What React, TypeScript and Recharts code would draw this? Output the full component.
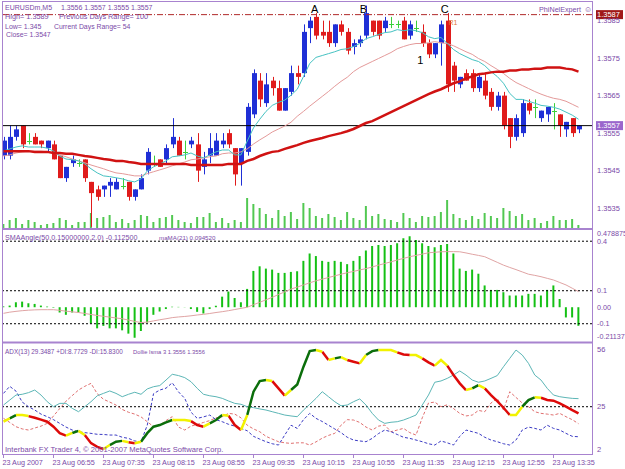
import { ComposedChart, Bar, Line, XAxis, YAxis, ReferenceLine, ReferenceDot } from 'recharts'

const W = 625
const H = 469
const FONT = '"Liberation Sans", Arial, sans-serif'
const PURPLE = '#7b4aa8'
const FRAME = '#a883cf'
const BULL = '#1f2fd6'
const BEAR = '#e01b1b'
const DOJI = '#3cd03c'

// bar index 0..92 = 23 Aug 06:15 .. 13:55, M5
const tickIdx = [0, 8, 16, 24, 32, 40, 48, 56, 64, 72, 80, 88]
const tickText = [
  '23 Aug 2007', '23 Aug 06:55', '23 Aug 07:35', '23 Aug 08:15', '23 Aug 08:55', '23 Aug 09:35',
  '23 Aug 10:15', '23 Aug 10:55', '23 Aug 11:35', '23 Aug 12:15', '23 Aug 12:55', '23 Aug 13:35',
]

const open = [
  1.3549, 1.3549, 1.3554, 1.3557, 1.3553, 1.3554, 1.3553, 1.3551, 1.3552, 1.3549,
  1.3543, 1.3547, 1.3547, 1.3548, 1.3542, 1.354, 1.354, 1.3541, 1.354, 1.3541,
  1.3542, 1.3538, 1.354, 1.3545, 1.3547, 1.3548, 1.3548, 1.3552, 1.3553, 1.355,
  1.3552, 1.3552, 1.3546, 1.3549, 1.3549, 1.3552, 1.3555, 1.3551, 1.3547, 1.355,
  1.356, 1.3569, 1.3563, 1.3569, 1.3567, 1.3561, 1.3566, 1.3571, 1.3571, 1.3583,
  1.3586, 1.3582, 1.3582, 1.3579, 1.3584, 1.3582, 1.3578, 1.3579, 1.3581, 1.3585,
  1.3585, 1.3583, 1.3584, 1.3584, 1.3585, 1.3581, 1.3583, 1.3582, 1.3579, 1.3576,
  1.3579, 1.3585, 1.3573, 1.3568, 1.3571, 1.3571, 1.3567, 1.3569, 1.3566, 1.3562,
  1.3565, 1.3559, 1.3554, 1.3555, 1.3563, 1.3562, 1.3559, 1.356, 1.3561, 1.356,
  1.3556, 1.3559, 1.3556,
]
const high = [
  1.3554, 1.3557, 1.3557, 1.3557, 1.3555, 1.3555, 1.3553, 1.3553, 1.3553, 1.3549,
  1.3546, 1.3549, 1.3548, 1.3548, 1.3542, 1.3541, 1.3541, 1.3543, 1.3543, 1.3543,
  1.3542, 1.354, 1.3544, 1.3551, 1.3549, 1.3548, 1.3552, 1.3559, 1.3554, 1.3553,
  1.3554, 1.3555, 1.355, 1.3555, 1.3555, 1.3555, 1.3556, 1.3551, 1.3551, 1.3563,
  1.3572, 1.3571, 1.3571, 1.357, 1.3569, 1.3567, 1.3573, 1.3573, 1.3584, 1.3586,
  1.3587, 1.3585, 1.3585, 1.3584, 1.3585, 1.3583, 1.358, 1.3581, 1.3589, 1.3585,
  1.3585, 1.3586, 1.3586, 1.3585, 1.3586, 1.3585, 1.3585, 1.3584, 1.358, 1.3579,
  1.3585, 1.3587, 1.3574, 1.357, 1.3572, 1.3572, 1.3571, 1.3571, 1.3567, 1.3566,
  1.3566, 1.3559, 1.356, 1.3564, 1.3564, 1.3564, 1.3561, 1.3562, 1.3563, 1.356,
  1.3558, 1.3559, 1.3557,
]
const low = [
  1.3548, 1.3548, 1.3553, 1.3551, 1.3552, 1.3552, 1.3551, 1.355, 1.3548, 1.3543,
  1.3542, 1.3546, 1.3546, 1.3542, 1.353, 1.3537, 1.3538, 1.3538, 1.354, 1.354,
  1.3537, 1.3537, 1.354, 1.3544, 1.3546, 1.3546, 1.3547, 1.3551, 1.3549, 1.3548,
  1.3551, 1.3542, 1.3544, 1.3547, 1.3549, 1.3551, 1.3551, 1.3541, 1.3541, 1.3549,
  1.3559, 1.3562, 1.3562, 1.3565, 1.3561, 1.3561, 1.3565, 1.3568, 1.357, 1.3579,
  1.358, 1.358, 1.3578, 1.3578, 1.3581, 1.3576, 1.3576, 1.3578, 1.358, 1.3581,
  1.358, 1.3582, 1.3583, 1.3583, 1.358, 1.358, 1.3582, 1.3578, 1.3575, 1.3575,
  1.3573, 1.3566, 1.3566, 1.3567, 1.3569, 1.3566, 1.3566, 1.3564, 1.3561, 1.3561,
  1.3556, 1.3551, 1.3553, 1.3554, 1.356, 1.3559, 1.3558, 1.3558, 1.3556, 1.3554,
  1.3554, 1.3554, 1.3555,
]
const close = [
  1.3553, 1.3554, 1.3556, 1.3552, 1.3553, 1.3552, 1.3552, 1.3553, 1.3548, 1.3543,
  1.3546, 1.3548, 1.3547, 1.3543, 1.3539, 1.3538, 1.3541, 1.3542, 1.3542, 1.3541,
  1.3538, 1.354, 1.3543, 1.355, 1.3547, 1.3546, 1.3551, 1.3554, 1.3549, 1.355,
  1.3553, 1.3545, 1.3548, 1.3551, 1.3553, 1.3553, 1.3552, 1.3544, 1.3551, 1.3562,
  1.3571, 1.3564, 1.3568, 1.3567, 1.3561, 1.3567, 1.3571, 1.357, 1.3582, 1.3585,
  1.3581, 1.3581, 1.3579, 1.3584, 1.3582, 1.3577, 1.3579, 1.358, 1.3587, 1.3582,
  1.3581, 1.3585, 1.3584, 1.3584, 1.358, 1.3584, 1.3583, 1.3579, 1.3576, 1.3579,
  1.3584, 1.3568, 1.3569, 1.357, 1.3569, 1.3567, 1.357, 1.3565, 1.3562, 1.3565,
  1.3557, 1.3554, 1.3559, 1.3563, 1.3561, 1.3562, 1.3561, 1.3562, 1.3561, 1.3557,
  1.3558, 1.3555, 1.3557,
]
const volume = [
  40, 80, 100, 40, 80, 60, 30, 40, 50, 100,
  80, 30, 60, 60, 150, 100, 110, 130, 60, 90,
  50, 80, 130, 120, 60, 100, 110, 130, 80, 60,
  50, 110, 110, 150, 60, 100, 50, 80, 60, 300,
  240, 200, 140, 100, 180, 120, 160, 90, 250, 200,
  120, 100, 140, 110, 80, 160, 100, 80, 220, 120,
  140, 90, 80, 60, 150, 100, 60, 120, 110, 120,
  160, 280, 140, 100, 80, 120, 90, 150, 120, 100,
  200, 170, 120, 140, 80, 100, 50, 70, 120, 80,
  80, 90, 30,
]
const maFast = [
  1.35502, 1.35508, 1.35513, 1.35516, 1.35513, 1.35513, 1.35513, 1.3551, 1.35502, 1.35489,
  1.35481, 1.35479, 1.35476, 1.35468, 1.35455, 1.35444, 1.35436, 1.35434, 1.35431, 1.35428,
  1.35423, 1.3542, 1.35428, 1.35449, 1.3546, 1.35468, 1.35476, 1.35487, 1.35489, 1.35492,
  1.35497, 1.35489, 1.35484, 1.35492, 1.355, 1.35505, 1.35505, 1.35492, 1.35492, 1.35529,
  1.35564, 1.35587, 1.35608, 1.35624, 1.35632, 1.35638, 1.35651, 1.35667, 1.35701, 1.35736,
  1.35752, 1.35757, 1.35762, 1.35767, 1.35773, 1.35775, 1.35781, 1.35789, 1.35802, 1.35807,
  1.35813, 1.35818, 1.3582, 1.35826, 1.35823, 1.35826, 1.35823, 1.35818, 1.35807, 1.35802,
  1.35805, 1.35789, 1.35773, 1.35762, 1.35754, 1.35746, 1.35741, 1.3573, 1.35714, 1.35701,
  1.35683, 1.35656, 1.3564, 1.3564, 1.35635, 1.3563, 1.35624, 1.35622, 1.35619, 1.35614,
  1.35606, 1.35598, 1.35587,
]
const maMid = [
  1.35489, 1.35492, 1.35497, 1.355, 1.35502, 1.35502, 1.35502, 1.355, 1.35497, 1.35492,
  1.35487, 1.35481, 1.35476, 1.35471, 1.35465, 1.3546, 1.35455, 1.35449, 1.35444, 1.35442,
  1.35439, 1.35436, 1.35436, 1.35442, 1.35447, 1.35452, 1.35457, 1.35463, 1.35468, 1.35473,
  1.35479, 1.35481, 1.35484, 1.35487, 1.35489, 1.35495, 1.35497, 1.35497, 1.355, 1.35508,
  1.35521, 1.35532, 1.35542, 1.35553, 1.35561, 1.35569, 1.35579, 1.35595, 1.35608, 1.35622,
  1.35635, 1.35648, 1.35661, 1.35675, 1.35688, 1.35699, 1.35714, 1.35725, 1.35733, 1.35741,
  1.35749, 1.35757, 1.35765, 1.35775, 1.35781, 1.35786, 1.35789, 1.35789, 1.35791, 1.35794,
  1.35791, 1.35789, 1.35783, 1.35775, 1.35767, 1.3576, 1.35749, 1.35741, 1.3573, 1.3572,
  1.35709, 1.35696, 1.35685, 1.35677, 1.35669, 1.35661, 1.35654, 1.35648, 1.35643, 1.3564,
  1.35635, 1.35627, 1.35619,
]
const maSlow = [
  1.35502, 1.35502, 1.35502, 1.35502, 1.35502, 1.355, 1.355, 1.355, 1.35497, 1.35497,
  1.35495, 1.35495, 1.35492, 1.35489, 1.35487, 1.35484, 1.35481, 1.35479, 1.35476, 1.35476,
  1.35473, 1.35471, 1.35468, 1.35468, 1.35468, 1.35468, 1.35468, 1.35468, 1.35468, 1.35468,
  1.35465, 1.35465, 1.35465, 1.35465, 1.35465, 1.35465, 1.35468, 1.35468, 1.35468, 1.35476,
  1.35481, 1.35489, 1.35495, 1.355, 1.35502, 1.35508, 1.35513, 1.35518, 1.35524, 1.35529,
  1.35533, 1.35537, 1.35542, 1.35546, 1.3555, 1.35555, 1.35561, 1.35569, 1.35577, 1.35582,
  1.3559, 1.35598, 1.35606, 1.35614, 1.35622, 1.3563, 1.35638, 1.35646, 1.35654, 1.35661,
  1.35667, 1.35675, 1.35683, 1.35688, 1.35696, 1.35701, 1.35707, 1.35709, 1.35712, 1.35714,
  1.35714, 1.35717, 1.35717, 1.3572, 1.3572, 1.35722, 1.35722, 1.35725, 1.35725, 1.35725,
  1.35722, 1.3572, 1.35714,
]
const smaAngle = [
  0.005, 0.01, 0.03, 0.034, 0.024, 0.02, 0.01, 0.004, -0.003, -0.032,
  -0.046, -0.032, -0.032, -0.052, -0.099, -0.128, -0.113, -0.128, -0.128, -0.14,
  -0.16, -0.185, -0.144, -0.093, -0.046, -0.026, -0.011, 0.003, 0.002, 0.001,
  -0.011, -0.028, -0.038, -0.011, 0.009, 0.064, 0.095, 0.056, 0.03, 0.111,
  0.22, 0.248, 0.234, 0.228, 0.208, 0.208, 0.214, 0.218, 0.281, 0.326,
  0.31, 0.281, 0.275, 0.281, 0.275, 0.261, 0.281, 0.31, 0.343, 0.371,
  0.377, 0.371, 0.377, 0.388, 0.418, 0.43, 0.408, 0.388, 0.371, 0.363,
  0.377, 0.383, 0.326, 0.234, 0.22, 0.228, 0.203, 0.132, 0.105, 0.105,
  0.091, 0.071, 0.071, 0.071, 0.081, 0.081, 0.071, 0.105, 0.132, 0.05,
  -0.062, -0.062, -0.1125,
]
const smaAngleMa = [
  -0.037, -0.03, -0.025, -0.021, -0.018, -0.016, -0.015, -0.015, -0.015, -0.019,
  -0.024, -0.028, -0.032, -0.038, -0.044, -0.05, -0.055, -0.06, -0.065, -0.07,
  -0.078, -0.086, -0.093, -0.09, -0.083, -0.076, -0.07, -0.063, -0.059, -0.056,
  -0.052, -0.047, -0.043, -0.038, -0.032, -0.027, -0.021, -0.014, -0.007, 0,
  0.015, 0.03, 0.045, 0.06, 0.077, 0.093, 0.11, 0.122, 0.135, 0.148,
  0.16, 0.17, 0.18, 0.19, 0.2, 0.209, 0.217, 0.226, 0.234, 0.244,
  0.255, 0.265, 0.275, 0.286, 0.296, 0.306, 0.314, 0.322, 0.33, 0.333,
  0.336, 0.337, 0.337, 0.336, 0.329, 0.321, 0.314, 0.306, 0.289, 0.272,
  0.255, 0.241, 0.228, 0.214, 0.2, 0.193, 0.185, 0.175, 0.165, 0.15,
  0.135, 0.115, 0.0945,
]
const adx = [
  25.9, 28.6, 31.3, 31.7, 32.6, 34, 31.3, 27.7, 25, 26.8,
  26.8, 24.1, 22.3, 25, 27.7, 30.9, 32.2, 33.5, 32.2, 30.4,
  31.7, 32.8, 31.7, 34.6, 35.8, 36.4, 39.4, 42.5, 41.8, 40.7,
  38.5, 34.9, 31.7, 30.9, 30.4, 29.5, 28.1, 26.8, 26.3, 25,
  24.5, 23.8, 23.2, 22.3, 21.4, 20.5, 20, 19.6, 23.2, 26.3,
  29.5, 33.1, 30.4, 27.7, 25.5, 25.9, 27.7, 29.2, 25.9, 21.4,
  17.8, 16, 16.6, 16.9, 17.8, 19.1, 20.5, 25.9, 31.3, 38.2,
  38.9, 40.3, 42.1, 44.3, 42.1, 39.4, 38.2, 38.9, 40.3, 41.8,
  46.6, 51.1, 55.6, 52.9, 48.4, 42.1, 39.4, 34.9, 31.3, 30.4,
  29.9, 29.5, 29.35,
]
const plusDi = [
  32.2, 36, 33.4, 27.5, 25, 23.2, 21, 19.6, 18, 16,
  14, 12.4, 11.5, 11, 10.6, 10.1, 10, 9.7, 9.7, 8.5,
  7.9, 6.5, 6.1, 15, 32, 34, 35, 37.9, 33, 29.5,
  22, 18.7, 19.5, 20.5, 18, 16.9, 15.5, 14.5, 13.3, 12,
  9, 7.5, 6.1, 5, 4.3, 9.7, 15, 13.3, 18, 21.4,
  18.7, 17, 15, 13, 11, 8.5, 7, 6.5, 6.1, 7.9,
  10.5, 12.4, 11.5, 10, 8.5, 7.9, 7, 6.1, 5, 4.3,
  6.5, 5.5, 4.3, 9, 12.4, 11.5, 10.6, 8.5, 7, 6.1,
  5, 4.3, 7, 12.4, 14, 13.3, 12.4, 15, 13.3, 12.4,
  10.6, 9, 8.77,
]
const minusDi = [
  18.7, 16.5, 14.2, 13, 12.4, 13.5, 14.5, 16, 20, 24,
  28, 31, 34, 36, 37.6, 32, 29, 27.5, 25.9, 23.5,
  22, 21, 19.5, 16.9, 14.2, 15, 17.5, 19.6, 14, 12.4,
  14.5, 15.5, 16.5, 17.5, 19, 19.6, 21.4, 21, 19, 15,
  13, 11.5, 9, 7.5, 6.1, 5.5, 5.2, 5.5, 5.5, 4.3,
  6, 8, 9.5, 10.6, 15, 18, 17.8, 16.5, 14, 12.4,
  14.5, 15.1, 11.5, 12.4, 13.3, 11, 9.7, 19, 27, 27.5,
  25, 26, 24, 21.4, 20, 20.5, 23, 22.3, 27, 29.5,
  23.2, 33.1, 30, 27, 25, 22.3, 21.4, 21, 20.5, 21.4,
  19.6, 18, 15.83,
]
const lsma = [
  1.35516, 1.35532, 1.35548, 1.35548, 1.35543, 1.35535, 1.35526, 1.35516, 1.35492, 1.35461,
  1.35449, 1.35462, 1.35472, 1.35452, 1.35413, 1.35395, 1.35385, 1.35404, 1.3542, 1.35424,
  1.35417, 1.35413, 1.3542, 1.35461, 1.35492, 1.355, 1.35513, 1.35524, 1.35524, 1.35524,
  1.35519, 1.355, 1.35492, 1.35508, 1.35524, 1.35548, 1.35545, 1.355, 1.35476, 1.35548,
  1.3566, 1.35711, 1.35716, 1.35711, 1.35676, 1.35641, 1.35668, 1.35695, 1.3578, 1.35855,
  1.3586, 1.35852, 1.35812, 1.3582, 1.35826, 1.35812, 1.35804, 1.35796, 1.35836, 1.35855,
  1.3586, 1.3586, 1.3586, 1.35849, 1.35839, 1.35836, 1.35836, 1.3582, 1.35801, 1.35785,
  1.35812, 1.35785, 1.3574, 1.357, 1.35668, 1.35676, 1.35692, 1.35676, 1.35644, 1.35615,
  1.35583, 1.35548, 1.35548, 1.35588, 1.3562, 1.35633, 1.35631, 1.3562, 1.35617, 1.35604,
  1.35588, 1.35572, 1.35556,
]

const mainTicks = [1.3535, 1.3545, 1.3555, 1.3565, 1.3575, 1.3585]
const angTicks = [0.478875, 0.4, 0.1, 0, -0.1, -0.21137]
const angTickText = ['0.478875', '0.4', '0.1', '0.00', '-0.1', '-0.21137']
const angLevels = [0.4, 0.1, -0.1]
const adxTicks = [56, 25, 2]
const bidPrice = 1.3557
const dayHigh = 1.35866

const marks = [
  { text: 'A', i: 49.8, p: 1.35881, size: 11, color: '#000' },
  { text: 'B', i: 57.6, p: 1.35881, size: 11, color: '#000' },
  { text: 'C', i: 70.6, p: 1.35881, size: 11, color: '#000' },
  { text: '1', i: 66.7, p: 1.35745, size: 11, color: '#000' },
  { text: 'R1', i: 71.9, p: 1.35846, size: 7, color: '#e07a3a' },
]

const rows: any[] = open.map((o, i) => ({
  i, o, h: high[i], l: low[i], c: close[i], hl: [low[i], high[i]],
  vol: volume[i], fast: maFast[i], mid: maMid[i], slow: maSlow[i],
  ang: smaAngle[i], angMa: smaAngleMa[i], adx: adx[i], pdi: plusDi[i], mdi: minusDi[i],
}))

// lsma colouring: green rising, red falling, yellow where it turns
const lsKeys: Record<string, string[]> = { g: ['lsG0', 'lsG1'], r: ['lsR0', 'lsR1'], y: ['lsY0', 'lsY1'] }
const lsColors: Record<string, string> = { g: '#0b6e0b', r: '#dd0a0a', y: '#f2f200' }
const segs = lsma.slice(1).map((v, k) => {
  const d = Math.sign(v - lsma[k])
  const prev = k > 0 ? Math.sign(lsma[k] - lsma[k - 1]) : 0
  if (d === 0 || d !== prev) return 'y'
  return d > 0 ? 'g' : 'r'
})
const used: Record<string, number> = { g: 0, r: 0, y: 0 }
for (let k = 0; k < segs.length; ) {
  const c = segs[k]
  let m = k
  while (m + 1 < segs.length && segs[m + 1] === c) m++
  const key = lsKeys[c][used[c] % 2]
  used[c]++
  for (let p = k; p <= m + 1; p++) rows[p][key] = lsma[p]
  k = m + 1
}

const xDomain = [-0.24, 94.16]
const txt = { fontFamily: FONT, fontSize: 7.2, fill: PURPLE }
const abs: any = { position: 'absolute', left: 0, top: 0 }

function Candle(p: any) {
  const { x, y, width, height, payload } = p
  if (height == null || !payload) return null
  const k = height / (payload.h - payload.l)
  const cx = Math.round(x + width / 2) + 0.5
  const yo = y + (payload.h - payload.o) * k
  const yc = y + (payload.h - payload.c) * k
  const col = payload.c > payload.o ? BULL : payload.c < payload.o ? BEAR : DOJI
  return (
    <g>
      <line x1={cx} x2={cx} y1={y} y2={y + height} stroke={col} strokeWidth={1} />
      {payload.c === payload.o ? (
        <line x1={cx - 2.5} x2={cx + 2.5} y1={Math.round(yo) + 0.5} y2={Math.round(yo) + 0.5} stroke={col} />
      ) : (
        <rect x={cx - 2.5} y={Math.min(yo, yc)} width={5} height={Math.abs(yc - yo)} fill={col} />
      )}
    </g>
  )
}

function PriceTag(p: any) {
  const vb = p.viewBox
  if (!vb) return null
  const x = vb.x + vb.width + 4
  return (
    <g>
      <rect x={x} y={vb.y - 4.5} width={27} height={9} fill={p.bg} />
      <text x={x + 1} y={vb.y + 2.8} fontFamily={FONT} fontSize={7.5} fill="#fff">{p.text}</text>
    </g>
  )
}

function AngTick(p: any) {
  const v = p.payload.value
  const idx = angTicks.indexOf(v)
  const dy = idx === 0 ? 5 : idx === angTicks.length - 1 ? -6 : 0
  return (
    <text x={p.x} y={p.y + dy} dy="0.355em" textAnchor="start" {...txt}>{angTickText[idx]}</text>
  )
}

function TimeTick(p: any) {
  const idx = tickIdx.indexOf(p.payload.value)
  return (
    <text x={p.x - 1} y={p.y} dy="0.71em" textAnchor="start" {...txt}>{tickText[idx]}</text>
  )
}

export default function App() {
  return (
    <div style={{ ...abs, width: W, height: H, background: '#fff', overflow: 'hidden' }}>
      {/* volume, behind the candles */}
      <div style={abs}>
        <ComposedChart width={W} height={H} data={rows} margin={{ top: 3, right: 33, bottom: 241, left: 2 }}>
          <XAxis dataKey="i" type="number" domain={xDomain} hide allowDataOverflow />
          <YAxis domain={[0, 2250]} hide allowDataOverflow />
          <Bar dataKey="vol" fill="#52c852" barSize={2} isAnimationActive={false} />
        </ComposedChart>
      </div>

      {/* price window */}
      <div style={abs}>
        <ComposedChart width={W} height={H} data={rows} margin={{ top: 3, right: 0, bottom: 241, left: 2 }}>
          <XAxis dataKey="i" type="number" domain={xDomain} hide allowDataOverflow />
          <YAxis
            orientation="right" width={33} domain={[1.35297, 1.35897]} allowDataOverflow
            ticks={mainTicks} interval={0} tickFormatter={(v: number) => v.toFixed(4)}
            axisLine={false} tickLine={false} tickSize={0} tickMargin={5} tick={{ ...txt, fontSize: 7.5 }}
          />
          <ReferenceLine y={bidPrice} stroke="#000" strokeWidth={1} label={<PriceTag text="1.3557" bg="#9a66cc" />} />
          <ReferenceLine y={dayHigh} stroke="#b02a2a" strokeDasharray="6 2 1 2" label={<PriceTag text="1.3587" bg="#a01818" />} />
          <Bar dataKey="hl" barSize={5} shape={(p: any) => <Candle {...p} />} isAnimationActive={false} />
          <Line dataKey="mid" stroke="#e49a9a" strokeWidth={1} dot={false} activeDot={false} isAnimationActive={false} />
          <Line dataKey="fast" stroke="#46c2c2" strokeWidth={1} dot={false} activeDot={false} isAnimationActive={false} />
          <Line dataKey="slow" stroke="#d01212" strokeWidth={2.5} dot={false} activeDot={false} isAnimationActive={false} />
          {marks.map((m) => (
            <ReferenceDot
              key={m.text} x={m.i} y={m.p} r={0} fill="none" stroke="none"
              label={{ value: m.text, position: 'center', fill: m.color, fontSize: m.size, fontFamily: FONT }}
            />
          ))}
        </ComposedChart>
      </div>

      {/* SMAAngle window */}
      <div style={abs}>
        <ComposedChart width={W} height={H} data={rows} margin={{ top: 228.2, right: 0, bottom: 126.9, left: 2 }}>
          <XAxis dataKey="i" type="number" domain={xDomain} hide allowDataOverflow />
          <YAxis
            orientation="right" width={33} domain={[-0.21137, 0.478875]} allowDataOverflow
            ticks={angTicks} interval={0} axisLine={false} tickLine={false} tickSize={0} tickMargin={5}
            tick={(p: any) => <AngTick {...p} />}
          />
          {angLevels.map((v) => (
            <ReferenceLine key={v} y={v} stroke="#000" strokeDasharray="2 2" />
          ))}
          <Bar dataKey="ang" fill="#14c014" barSize={2} isAnimationActive={false} />
          <Line dataKey="angMa" stroke="#e0a4a4" strokeWidth={1} dot={false} activeDot={false} isAnimationActive={false} />
        </ComposedChart>
      </div>

      {/* ADX window */}
      <div style={abs}>
        <ComposedChart width={W} height={H} data={rows} margin={{ top: 344, right: 0, bottom: 0, left: 2 }}>
          <XAxis
            dataKey="i" type="number" domain={xDomain} allowDataOverflow height={15}
            ticks={tickIdx} interval={0} axisLine={false} tickSize={4} tickMargin={2}
            tickLine={{ stroke: FRAME }} tick={(p: any) => <TimeTick {...p} />}
          />
          <YAxis
            yAxisId="adx" orientation="right" width={33} domain={[-0.54, 58.86]} allowDataOverflow
            ticks={adxTicks} interval={0} axisLine={false} tickLine={false} tickSize={0} tickMargin={5}
            tick={{ ...txt, fontSize: 7.5 }}
          />
          <YAxis yAxisId="ls" domain={[1.35361, 1.35889]} hide allowDataOverflow />
          <ReferenceLine yAxisId="adx" y={25} stroke="#000" strokeDasharray="2 2" />
          <Line yAxisId="adx" dataKey="mdi" stroke="#e07070" strokeDasharray="3 2" strokeWidth={1} dot={false} activeDot={false} isAnimationActive={false} />
          <Line yAxisId="adx" dataKey="pdi" stroke="#3c3cc4" strokeDasharray="3 2" strokeWidth={1} dot={false} activeDot={false} isAnimationActive={false} />
          <Line yAxisId="adx" dataKey="adx" stroke="#5cb6b6" strokeWidth={1} dot={false} activeDot={false} isAnimationActive={false} />
          {Object.keys(lsKeys).flatMap((c) =>
            lsKeys[c].map((k) => (
              <Line key={k} yAxisId="ls" dataKey={k} stroke={lsColors[c]} strokeWidth={2.5} dot={false} activeDot={false} isAnimationActive={false} />
            )),
          )}
        </ComposedChart>
      </div>

      {/* frame and window captions */}
      <svg width={W} height={H} style={{ ...abs, pointerEvents: 'none' }}>
        <g stroke={FRAME} fill="none">
          <line x1={2.5} x2={2.5} y1={1} y2={455} />
          <line x1={592.5} x2={592.5} y1={1} y2={455} />
          <line x1={2} x2={593} y1={1.5} y2={1.5} />
          <line x1={2} x2={593} y1={229} y2={229} strokeWidth={2} />
          <line x1={2} x2={593} y1={342.5} y2={342.5} strokeWidth={2} />
          <line x1={2} x2={593} y1={454.5} y2={454.5} />
        </g>
        <g style={{ whiteSpace: 'pre' }} fontFamily={FONT} fill={PURPLE}>
          <text x={5} y={10} fontSize={7}>EURUSDm,M5</text>
          <text x={61} y={10} fontSize={7}>1.3556 1.3557 1.3555 1.3557</text>
          <text x={5} y={18.5} fontSize={7.3}>High= 1.3589</text>
          <text x={59} y={18.5} fontSize={7.3}>Previous Days Range= 100</text>
          <text x={5} y={28.7} fontSize={7}>Low= 1.345</text>
          <text x={54} y={28.7} fontSize={6.9}>Current Days Range= 54</text>
          <text x={6} y={37} fontSize={6.9}>Close= 1.3547</text>
          <text x={581} y={12} fontSize={7.2} textAnchor="end">PhiNelExpert</text>
          <text x={584} y={12} fontSize={8}>☺</text>
          <text x={5} y={239.8} fontSize={7.2}>SMAAngle(50,0.15000000,2.0) -0.112500</text>
          <text x={159} y={239.8} fontSize={6.2}>maMA(21) 0.094520</text>
          <text x={5} y={354.2} fontSize={6.4}>ADX(13) 29.3487 +DI:8.7729 -DI:15.8300</text>
          <text x={133} y={354.2} fontSize={5.8}>Dollie lsma 3 1.3556 1.3556</text>
          <text x={5} y={452} fontSize={7.6}>Interbank FX Trader 4, © 2001-2007 MetaQuotes Software Corp.</text>
        </g>
      </svg>
    </div>
  )
}
